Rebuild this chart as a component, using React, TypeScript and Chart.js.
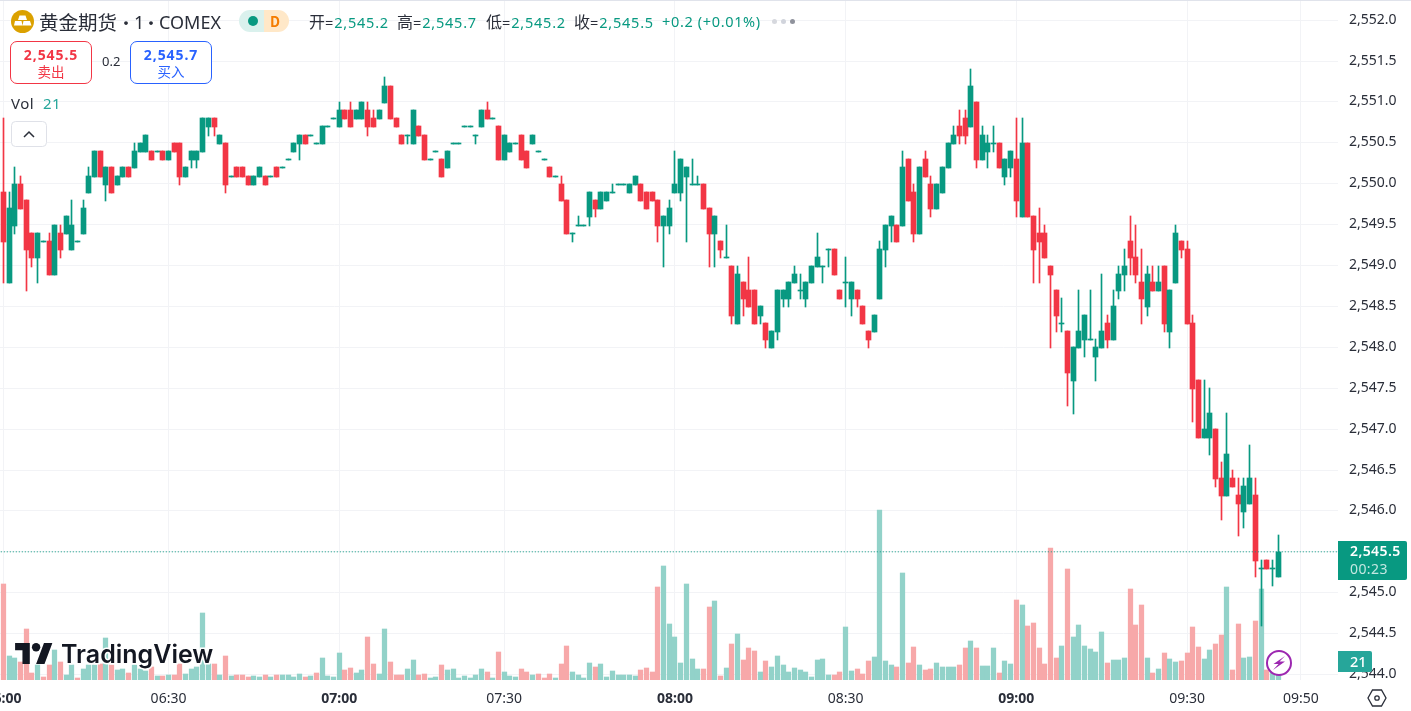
import { useEffect, useRef } from "react"
import { Chart, registerables } from "chart.js"

Chart.register(...registerables)

// ── candles, one minute per bar, oldest first ──────────────────────────────
const opens = [
  2549.9,2548.8,2549.5,2550.0,2549.8,2549.4,2549.1,2549.3,2549.3,2548.9,
  2549.4,2549.4,2549.2,2549.3,2549.4,2549.9,2550.1,2550.4,2550.0,2550.2,
  2550.0,2550.1,2550.2,2550.2,2550.4,2550.4,2550.4,2550.4,2550.4,2550.3,
  2550.5,2550.5,2550.1,2550.3,2550.3,2550.4,2550.7,2550.8,2550.5,2550.5,
  2550.1,2550.2,2550.2,2550.1,2550.0,2550.1,2550.1,2550.1,2550.2,2550.2,
  2550.3,2550.4,2550.5,2550.6,2550.6,2550.5,2550.5,2550.7,2550.8,2550.7,
  2550.9,2550.9,2550.8,2550.8,2550.9,2550.8,2550.8,2551.0,2551.2,2550.8,
  2550.6,2550.6,2550.5,2550.7,2550.6,2550.3,2550.4,2550.3,2550.2,2550.5,
  2550.5,2550.7,2550.7,2550.6,2550.7,2550.9,2550.8,2550.7,2550.3,2550.4,
  2550.5,2550.6,2550.4,2550.5,2550.4,2550.3,2550.2,2550.1,2550.0,2549.8,
  2549.4,2549.5,2549.5,2549.6,2549.8,2549.7,2549.8,2549.9,2550.0,2550.0,
  2549.9,2550.0,2550.0,2549.9,2549.9,2549.8,2549.5,2549.5,2549.9,2549.9,
  2550.1,2550.0,2550.0,2550.0,2549.7,2549.4,2549.3,2549.1,2549.0,2548.3,
  2548.8,2548.7,2548.7,2548.4,2548.3,2548.0,2548.2,2548.6,2548.6,2548.8,
  2548.7,2548.6,2548.8,2549.0,2549.0,2549.2,2549.2,2548.7,2548.8,2548.6,
  2548.7,2548.5,2548.2,2548.2,2548.6,2549.2,2549.5,2549.5,2549.5,2550.3,
  2549.9,2549.4,2550.3,2550.0,2549.7,2549.9,2550.2,2550.5,2550.7,2550.8,
  2550.7,2551.0,2550.3,2550.4,2550.5,2550.5,2550.1,2550.2,2550.3,2549.6,
  2550.5,2549.6,2549.4,2549.4,2549.0,2548.7,2548.3,2548.2,2547.6,2548.0,
  2548.1,2548.1,2547.9,2548.0,2548.3,2548.1,2548.7,2548.9,2549.3,2549.1,
  2548.8,2548.5,2548.8,2548.7,2549.0,2548.2,2548.8,2549.3,2549.2,2548.3,
  2547.6,2546.9,2546.9,2547.0,2546.4,2546.2,2546.4,2546.2,2546.0,2546.1,
  2546.2,2545.3,2545.4,2545.3,2545.2,
]
const closes = [
  2549.3,2549.7,2550.0,2549.7,2549.2,2549.1,2549.4,2549.3,2548.9,2549.5,
  2549.2,2549.6,2549.5,2549.3,2549.7,2550.1,2550.4,2550.1,2550.2,2549.9,
  2550.1,2550.2,2550.1,2550.4,2550.5,2550.6,2550.3,2550.4,2550.3,2550.4,
  2550.4,2550.1,2550.2,2550.4,2550.4,2550.8,2550.8,2550.7,2550.6,2550.0,
  2550.1,2550.1,2550.1,2550.0,2550.1,2550.2,2550.0,2550.1,2550.1,2550.2,
  2550.3,2550.5,2550.6,2550.5,2550.6,2550.5,2550.7,2550.7,2550.8,2550.9,
  2550.8,2550.7,2550.9,2551.0,2550.7,2550.7,2550.9,2551.2,2550.8,2550.7,
  2550.5,2550.6,2550.9,2550.6,2550.3,2550.3,2550.4,2550.1,2550.4,2550.5,
  2550.5,2550.7,2550.7,2550.6,2550.9,2550.8,2550.8,2550.3,2550.6,2550.5,
  2550.5,2550.3,2550.2,2550.6,2550.4,2550.3,2550.1,2550.1,2549.8,2549.4,
  2549.4,2549.5,2549.5,2549.9,2549.7,2549.9,2549.9,2549.9,2550.0,2550.0,
  2550.0,2550.1,2549.8,2549.7,2549.8,2549.5,2549.6,2549.7,2550.0,2550.3,
  2550.2,2550.0,2550.0,2549.7,2549.4,2549.6,2549.2,2549.1,2548.4,2548.9,
  2548.6,2548.5,2548.3,2548.5,2548.1,2548.2,2548.7,2548.7,2548.8,2548.9,
  2548.7,2548.8,2549.0,2549.1,2549.0,2549.2,2548.9,2548.6,2548.8,2548.8,
  2548.6,2548.3,2548.1,2548.4,2549.2,2549.5,2549.6,2549.3,2550.2,2549.8,
  2549.4,2550.2,2550.1,2549.7,2550.0,2550.2,2550.5,2550.6,2550.6,2550.6,
  2551.2,2550.3,2550.6,2550.5,2550.5,2550.2,2550.3,2550.4,2549.8,2550.5,
  2549.6,2549.2,2549.3,2549.1,2548.9,2548.4,2548.3,2547.7,2548.0,2548.2,
  2548.4,2548.1,2548.0,2548.2,2548.1,2548.5,2548.9,2549.0,2549.1,2548.9,
  2548.6,2548.9,2548.7,2548.8,2548.3,2548.7,2549.4,2549.2,2548.3,2547.5,
  2546.9,2547.0,2547.2,2546.4,2546.2,2546.7,2546.3,2546.1,2546.3,2546.4,
  2545.4,2545.3,2545.3,2545.3,2545.5,
]
const highs = [
  2550.8,2549.9,2550.2,2550.1,2549.8,2549.4,2549.4,2549.3,2549.4,2549.5,
  2549.5,2549.6,2549.8,2549.3,2549.8,2550.2,2550.4,2550.4,2550.2,2550.2,
  2550.1,2550.2,2550.2,2550.5,2550.5,2550.6,2550.4,2550.4,2550.4,2550.4,
  2550.5,2550.5,2550.2,2550.4,2550.4,2550.8,2550.8,2550.8,2550.6,2550.5,
  2550.1,2550.2,2550.2,2550.1,2550.1,2550.2,2550.1,2550.1,2550.2,2550.2,
  2550.3,2550.5,2550.6,2550.6,2550.6,2550.5,2550.7,2550.7,2550.8,2551.0,
  2550.9,2551.0,2550.9,2551.0,2551.0,2550.9,2550.9,2551.3,2551.2,2550.8,
  2550.6,2550.6,2550.9,2550.7,2550.6,2550.3,2550.4,2550.3,2550.4,2550.5,
  2550.5,2550.7,2550.7,2550.6,2550.9,2551.0,2550.8,2550.7,2550.6,2550.5,
  2550.5,2550.6,2550.4,2550.6,2550.4,2550.3,2550.2,2550.1,2550.1,2549.8,
  2549.4,2549.6,2549.5,2549.9,2549.8,2549.9,2549.9,2550.0,2550.0,2550.0,
  2550.0,2550.1,2550.0,2549.9,2549.9,2549.8,2549.6,2549.8,2550.4,2550.3,
  2550.2,2550.3,2550.1,2550.0,2549.7,2549.6,2549.3,2549.5,2549.0,2549.0,
  2548.8,2549.1,2548.7,2548.5,2548.3,2548.2,2548.7,2548.7,2548.8,2549.0,
  2548.9,2548.8,2549.0,2549.4,2549.0,2549.2,2549.2,2548.7,2549.1,2548.8,
  2548.7,2548.5,2548.2,2548.4,2549.3,2549.5,2549.6,2549.5,2550.4,2550.3,
  2550.0,2550.2,2550.4,2550.1,2550.0,2550.2,2550.5,2550.7,2550.9,2550.9,
  2551.4,2551.0,2550.7,2550.6,2550.7,2550.5,2550.3,2550.4,2550.8,2550.8,
  2550.5,2549.6,2549.7,2549.5,2549.0,2548.7,2548.6,2548.2,2548.0,2548.7,
  2548.4,2548.7,2548.1,2548.9,2548.4,2548.7,2549.0,2549.2,2549.6,2549.5,
  2549.2,2549.0,2549.0,2549.0,2549.0,2548.7,2549.5,2549.3,2549.3,2548.4,
  2547.6,2547.6,2547.5,2547.0,2546.6,2547.2,2546.5,2546.4,2546.4,2546.8,
  2546.4,2545.4,2545.4,2545.4,2545.7,
]
const lows = [
  2548.8,2548.8,2549.4,2549.7,2548.7,2549.0,2548.8,2549.3,2548.9,2548.9,
  2549.1,2549.4,2549.2,2549.3,2549.4,2549.9,2550.1,2550.1,2549.8,2549.9,
  2550.0,2550.1,2550.1,2550.2,2550.4,2550.4,2550.3,2550.4,2550.3,2550.3,
  2550.4,2550.0,2550.1,2550.2,2550.2,2550.4,2550.6,2550.6,2550.5,2549.9,
  2550.1,2550.1,2550.1,2550.0,2550.0,2550.1,2550.0,2550.1,2550.1,2550.2,
  2550.3,2550.4,2550.3,2550.5,2550.6,2550.5,2550.5,2550.7,2550.8,2550.7,
  2550.8,2550.7,2550.8,2550.8,2550.6,2550.7,2550.8,2551.0,2550.8,2550.7,
  2550.5,2550.5,2550.5,2550.6,2550.3,2550.3,2550.4,2550.1,2550.2,2550.5,
  2550.5,2550.7,2550.7,2550.5,2550.7,2550.8,2550.8,2550.3,2550.3,2550.4,
  2550.5,2550.3,2550.2,2550.5,2550.4,2550.3,2550.1,2550.1,2549.8,2549.4,
  2549.3,2549.5,2549.5,2549.5,2549.6,2549.7,2549.8,2549.9,2550.0,2550.0,
  2549.9,2550.0,2549.8,2549.7,2549.8,2549.3,2549.0,2549.4,2549.9,2549.8,
  2549.3,2550.0,2550.0,2549.7,2549.0,2549.0,2549.1,2549.1,2548.3,2548.3,
  2548.4,2548.5,2548.3,2548.3,2548.0,2548.0,2548.1,2548.5,2548.5,2548.8,
  2548.6,2548.5,2548.8,2549.0,2548.8,2549.0,2548.9,2548.6,2548.5,2548.4,
  2548.5,2548.3,2548.0,2548.2,2548.6,2549.0,2549.3,2549.3,2549.5,2549.8,
  2549.3,2549.4,2550.1,2549.6,2549.7,2549.9,2550.2,2550.5,2550.5,2550.5,
  2550.7,2550.2,2550.3,2550.2,2550.4,2550.2,2550.0,2550.1,2549.6,2549.6,
  2549.6,2548.8,2548.8,2549.1,2548.0,2548.2,2548.2,2547.3,2547.2,2548.0,
  2547.9,2548.1,2547.6,2548.0,2548.0,2548.1,2548.6,2548.7,2548.9,2548.8,
  2548.3,2548.4,2548.7,2548.7,2548.2,2548.0,2548.8,2549.1,2548.3,2547.1,
  2546.9,2546.9,2546.7,2546.3,2545.9,2546.2,2546.3,2545.7,2545.8,2546.1,
  2545.2,2544.6,2545.3,2545.1,2545.2,
]
const volumes = [
  96,24,22,18,51,7,15,3,15,30,
  18,5,15,2,11,15,15,16,42,15,
  10,11,7,15,11,9,13,4,4,5,
  5,16,6,11,13,67,16,16,5,24,
  4,5,5,3,4,3,5,3,5,5,
  5,3,6,3,4,7,22,4,3,27,
  10,12,7,10,43,16,6,51,18,5,
  5,11,20,5,6,2,3,15,10,11,
  2,4,2,5,11,8,2,28,8,4,
  3,11,8,5,6,2,6,2,16,34,
  8,5,2,17,13,16,3,9,5,5,
  5,4,10,12,8,93,114,56,43,17,
  96,21,11,11,73,79,4,12,36,46,
  20,32,29,8,19,13,24,15,8,12,
  10,8,3,20,21,5,5,8,53,9,
  11,6,19,23,170,19,15,13,107,17,
  33,15,10,11,17,13,13,13,15,32,
  39,32,14,14,32,7,19,16,80,75,
  54,57,32,16,132,22,34,111,43,55,
  34,31,28,48,17,20,20,22,91,55,
  75,22,7,11,27,21,18,19,27,53,
  33,21,30,36,45,93,10,56,22,23,
  59,91,10,8,21,
]
// flat candles whose volume bar is still red
const flatRedVolume = [7, 13, 55, 94, 95]

const priceTicks = [2544, 2544.5, 2545, 2545.5, 2546, 2546.5, 2547, 2547.5, 2548, 2548.5, 2549, 2549.5, 2550, 2550.5, 2551, 2551.5, 2552]
const timeTickIndex = [0, 29, 59, 88, 118, 148, 178, 208, 228]
const timeTickLabels = ["06:00", "06:30", "07:00", "07:30", "08:00", "08:30", "09:00", "09:30", "09:50"]
const boldTimeLabels = ["06:00", "07:00", "08:00", "09:00"]
const lastPrice = 2545.5

const UP = "#089981"
const DOWN = "#f23645"
const UP_VOL = "#92d2c9"
const DOWN_VOL = "#f7a8a9"
const GRID = "#f2f3f6"
const TEXT = "#2a2e39"

const isDown = (i: number) => closes[i] < opens[i]

// TradingView snaps bars to whole device pixels, a stock canvas bar would blur
const snapBars = {
  id: "snapBars",
  beforeInit(chart: any) {
    chart.ctx.letterSpacing = "0.4px"
  },
  afterDatasetsUpdate(chart: Chart) {
    chart.data.datasets.forEach((ds: any, d: number) => {
      if (ds.type !== "bar") return
      chart.getDatasetMeta(d).data.forEach((el: any) => {
        el.x = Math.round(el.x - 0.5) + 0.5
        const top = Math.round(Math.min(el.y, el.base))
        const bottom = Math.round(Math.max(el.y, el.base))
        el.y = top
        el.base = ds.candle ? bottom + 1 : bottom
      })
    })
  },
}

export default function App() {
  const chartRef = useRef<HTMLCanvasElement>(null)

  useEffect(() => {
    if (!chartRef.current) return
    const candleColor = opens.map((_, i) => (isDown(i) ? DOWN : UP))
    const volColor = volumes.map((_, i) => (isDown(i) || flatRedVolume.includes(i) ? DOWN_VOL : UP_VOL))

    const chart = new Chart(chartRef.current, {
      type: "bar",
      plugins: [snapBars],
      data: {
        datasets: [
          {
            type: "line",
            yAxisID: "y",
            data: [{ x: -1, y: lastPrice }, { x: 235, y: lastPrice }],
            borderColor: UP,
            borderWidth: 1,
            borderDash: [1, 2],
            pointRadius: 0,
            order: 0,
          },
          {
            type: "bar",
            candle: true,
            yAxisID: "y",
            data: opens.map((o, i) => ({ x: i, y: [o, closes[i]] })),
            backgroundColor: candleColor,
            barThickness: 5,
            grouped: false,
            order: 1,
          },
          {
            type: "bar",
            candle: true,
            yAxisID: "y",
            data: lows.map((l, i) => ({ x: i, y: [l, highs[i]] })),
            backgroundColor: candleColor,
            barThickness: 1,
            grouped: false,
            order: 2,
          },
          {
            type: "bar",
            yAxisID: "vol",
            data: volumes.map((v, i) => ({ x: i, y: v })),
            backgroundColor: volColor,
            barThickness: 4.6,
            grouped: false,
            order: 3,
          },
        ] as any,
      },
      options: {
        responsive: false,
        animation: false,
        events: [],
        layout: { padding: 0 },
        plugins: { legend: { display: false }, tooltip: { enabled: false } },
        scales: {
          x: {
            type: "linear",
            min: -0.615,
            max: 234.53,
            offset: false,
            border: { display: false },
            grid: { color: GRID, drawTicks: false, offset: false },
            afterBuildTicks: (s: any) => {
              s.ticks = timeTickIndex.map((value) => ({ value }))
            },
            afterFit: (s: any) => {
              s.height = 31
              s.paddingLeft = 0
              s.paddingRight = 0
            },
            ticks: {
              autoSkip: false,
              maxRotation: 0,
              padding: 11,
              color: TEXT,
              callback: (v: any) => timeTickLabels[timeTickIndex.indexOf(v)],
              font: (c: any) => ({
                family: "'Noto Sans'",
                size: 14,
                weight: boldTimeLabels.includes(timeTickLabels[timeTickIndex.indexOf(c.tick?.value)]) ? 700 : 400,
              }),
            },
          },
          y: {
            type: "linear",
            position: "right",
            min: 2543.933,
            max: 2552.246,
            border: { display: false },
            grid: { color: GRID, drawTicks: false },
            afterBuildTicks: (s: any) => {
              s.ticks = priceTicks.map((value) => ({ value }))
            },
            afterFit: (s: any) => {
              s.width = 73
              s.paddingTop = 0
              s.paddingBottom = 0
            },
            ticks: {
              padding: 11,
              labelOffset: -0.5,
              color: TEXT,
              font: { family: "'Noto Sans'", size: 14 },
              callback: (v: any) => Number(v).toLocaleString("en-US", { minimumFractionDigits: 1 }),
            },
          },
          // one volume unit is about one pixel tall
          vol: { type: "linear", display: false, min: 0, max: 680 },
        },
      },
    })
    return () => chart.destroy()
  }, [])

  const cjk = "'Noto Sans CJK SC','Noto Sans',sans-serif"
  const abs = (x: number, y: number, extra: any = {}) => ({ position: "absolute", left: x, top: y, whiteSpace: "nowrap", lineHeight: 1, ...extra }) as any
  const ohlc = { fontSize: 14.5, letterSpacing: 0.8, fontFamily: "'Noto Sans'" }
  const label = { fontSize: 16, letterSpacing: 0, fontFamily: cjk }
  const val = { color: UP }

  return (
    <div style={{ position: "fixed", inset: 0, background: "#fff", overflow: "hidden", fontFamily: cjk, color: TEXT }}>
      <canvas ref={chartRef} width={1411} height={711} style={{ display: "block" }} />
      <div style={abs(0, 0, { width: 1411, height: 1, background: "#e0e3eb" })} />

      {/* legend */}
      <svg style={abs(11, 10)} width={23} height={23} viewBox="0 0 23 23">
        <circle cx="11.5" cy="11.5" r="11.5" fill="#dba100" />
        <path d="M8.5 5.5h6l1.5 4.5h-9zM4 11h6.5l1 4.5h-8.5zM12.5 11h6.5l1.5 4.5h-9z" fill="#fff" />
      </svg>
      <div style={abs(39, 12, { fontSize: 19.5 })}>黄金期货</div>
      <div style={abs(117, 13, { fontSize: 18 })}>·</div>
      <div style={abs(134, 13, { fontSize: 18, fontFamily: "'Noto Sans'" })}>1</div>
      <div style={abs(142, 13, { fontSize: 18 })}>·</div>
      <div style={abs(159, 13, { fontSize: 18, fontFamily: "'Noto Sans'" })}>COMEX</div>
      <div style={abs(239, 10, { width: 25, height: 22, background: "#daf1ed", borderRadius: "11px 0 0 11px" })} />
      <div style={abs(264, 10, { width: 25, height: 22, background: "#ffe8c8", borderRadius: "0 11px 11px 0" })} />
      <div style={abs(248, 16, { width: 10, height: 10, borderRadius: 5, background: UP })} />
      <div style={abs(270, 14, { fontSize: 14, fontWeight: 700, color: "#f57c00" })}>D</div>
      <div style={abs(309, 13, ohlc)}><span style={label}>开</span>=<span style={val}>2,545.2</span></div>
      <div style={abs(397, 13, ohlc)}><span style={label}>高</span>=<span style={val}>2,545.7</span></div>
      <div style={abs(486, 13, ohlc)}><span style={label}>低</span>=<span style={val}>2,545.2</span></div>
      <div style={abs(574, 13, ohlc)}><span style={label}>收</span>=<span style={val}>2,545.5</span></div>
      <div style={abs(662, 14, { ...ohlc, letterSpacing: 0.65, color: UP })}>+0.2 (+0.01%)</div>
      <div style={abs(772, 19, { width: 5, height: 5, borderRadius: 3, background: "#d6d8de" })} />
      <div style={abs(781, 19, { width: 5, height: 5, borderRadius: 3, background: "#d1d4dc" })} />
      <div style={abs(790, 19, { width: 5, height: 5, borderRadius: 3, background: "#8f929c" })} />

      {/* sell / buy */}
      <div style={abs(10, 41, { width: 82, height: 43, boxSizing: "border-box", border: `1px solid ${DOWN}`, borderRadius: 7, background: "#fff" })} />
      <div style={abs(10, 48, { width: 82, textAlign: "center", fontSize: 14, fontWeight: 700, letterSpacing: 0.9, fontFamily: "'Noto Sans'", color: DOWN })}>2,545.5</div>
      <div style={abs(10, 65, { width: 82, textAlign: "center", fontSize: 13.5, color: DOWN })}>卖出</div>
      <div style={abs(102, 55, { fontSize: 13, fontFamily: "'Noto Sans'" })}>0.2</div>
      <div style={abs(130, 41, { width: 82, height: 43, boxSizing: "border-box", border: "1px solid #2962ff", borderRadius: 7, background: "#fff" })} />
      <div style={abs(130, 48, { width: 82, textAlign: "center", fontSize: 14, fontWeight: 700, letterSpacing: 0.9, fontFamily: "'Noto Sans'", color: "#2962ff" })}>2,545.7</div>
      <div style={abs(130, 65, { width: 82, textAlign: "center", fontSize: 13.5, color: "#2962ff" })}>买入</div>

      <div style={abs(11, 96, { fontSize: 15, fontFamily: "'Noto Sans'", letterSpacing: 0.5 })}>Vol</div>
      <div style={abs(43, 96, { fontSize: 15, fontFamily: "'Noto Sans'", letterSpacing: 0.5, color: "#26a69a" })}>21</div>
      <svg style={abs(11, 121)} width={36} height={26} viewBox="0 0 36 26">
        <rect x="0.5" y="0.5" width="35" height="25" rx="4" fill="#fff" stroke="#dfe1e8" />
        <path d="M13 16l5-5 5 5" fill="none" stroke={TEXT} strokeWidth="1.5" />
      </svg>

      {/* watermark */}
      <svg style={abs(15, 643)} width={38} height={21} viewBox="0 0 36 20">
        <path d="M14 20H7V7H0V0h14zM28 20h-8l7.5-20h8z" fill="#131722" />
        <circle cx="20" cy="4" r="4" fill="#131722" />
      </svg>
      <div style={abs(61, 642, { fontFamily: "Inter", fontWeight: 600, fontSize: 25, letterSpacing: 0, color: "#131722", WebkitTextStroke: "3px #fff", paintOrder: "stroke fill" })}>TradingView</div>

      {/* right side tags */}
      <div style={abs(1338, 541, { width: 69, height: 39, background: UP, borderRadius: "0 2px 2px 0" })} />
      <div style={abs(1350, 544, { fontFamily: "'Noto Sans'", fontSize: 14, letterSpacing: 0.4, fontWeight: 600, color: "#fff" })}>2,545.5</div>
      <div style={abs(1350, 562, { fontFamily: "'Noto Sans'", fontSize: 14, letterSpacing: 0.4, color: "#c4e7e1" })}>00:23</div>
      <div style={abs(1338, 651, { width: 34, height: 21, background: "#26a69a", borderRadius: "0 2px 2px 0" })} />
      <div style={abs(1350, 654, { fontFamily: "'Noto Sans'", fontSize: 14.5, fontWeight: 500, color: "#fff" })}>21</div>

      <svg style={abs(1265, 649)} width={28} height={28} viewBox="0 0 28 28">
        <circle cx="14" cy="14" r="12" fill="#fff" stroke="#9c27b0" strokeWidth="2" />
        <path d="M20 7L8.5 15h5L8 21l12-8.5h-5.5z" fill="#9c27b0" />
      </svg>
      <svg style={abs(1367, 689)} width={20} height={18} viewBox="0 0 20 18">
        <path d="M5.5 1h9l4.5 8-4.5 8h-9L1 9z" fill="none" stroke={TEXT} strokeWidth="1.3" />
        <circle cx="10" cy="9" r="2.2" fill="none" stroke={TEXT} strokeWidth="1.3" />
      </svg>
    </div>
  )
}
